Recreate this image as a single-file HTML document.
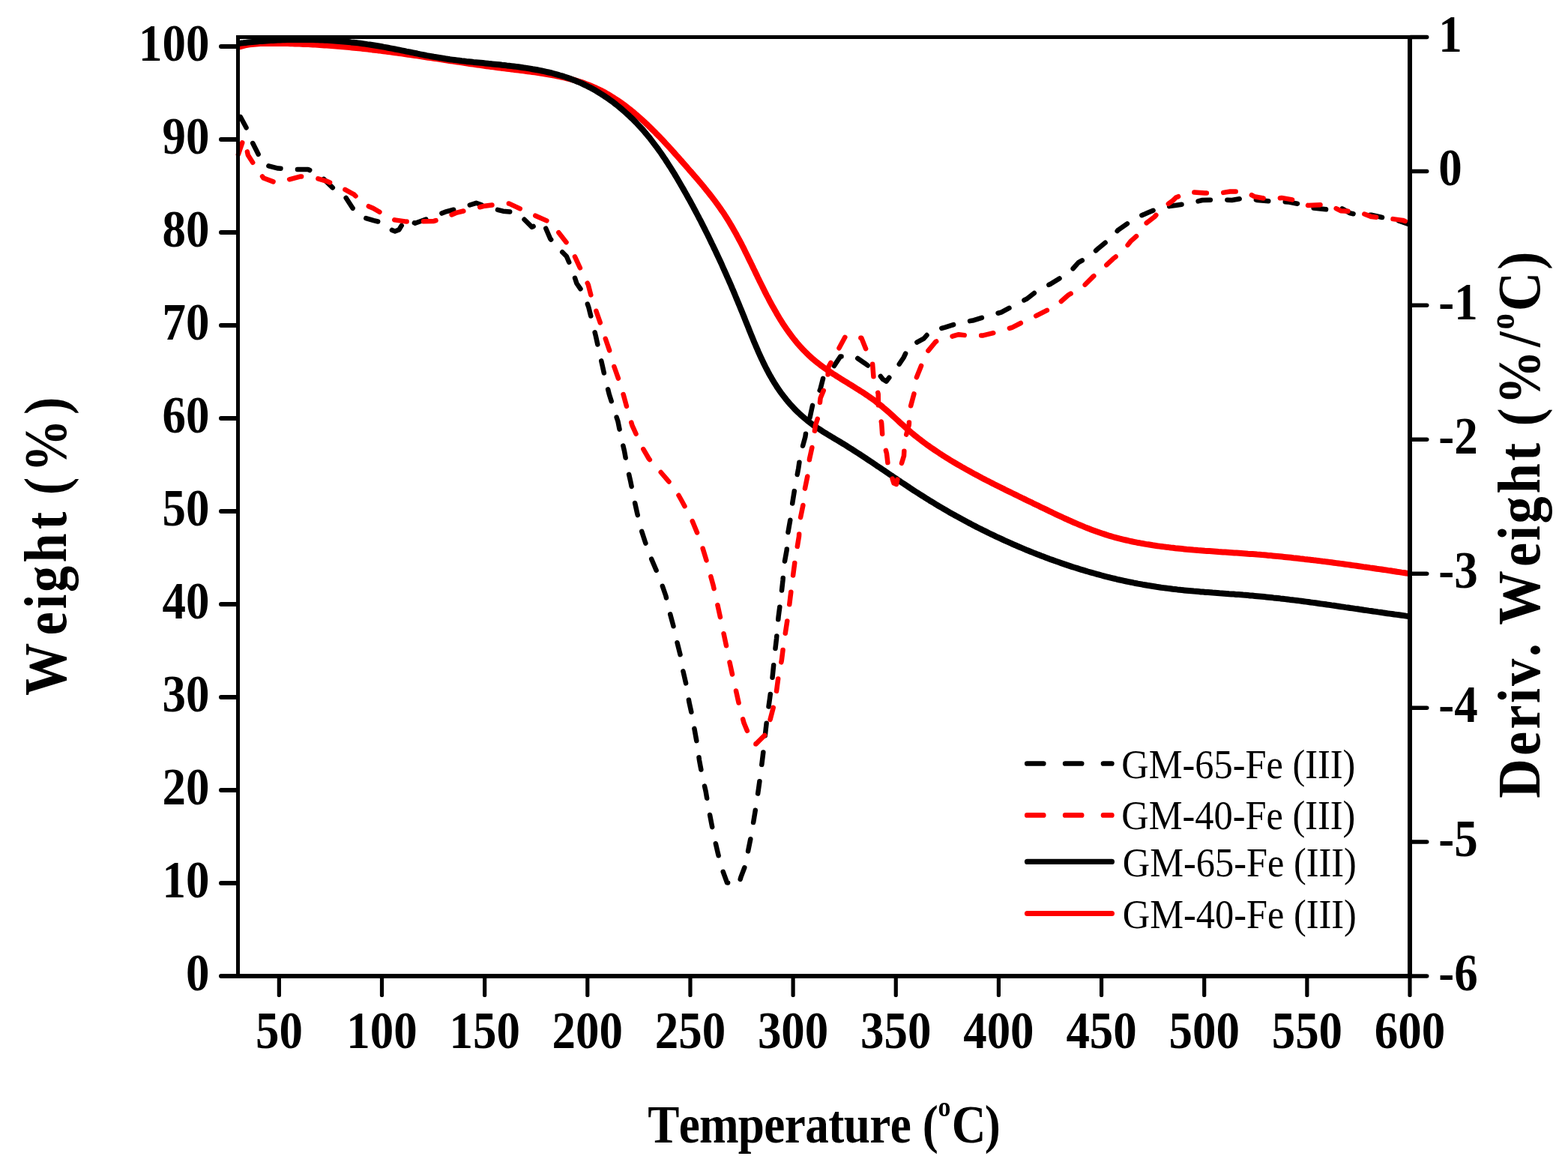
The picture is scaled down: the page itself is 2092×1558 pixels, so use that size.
<!DOCTYPE html>
<html><head><meta charset="utf-8"><title>TGA and DTG curves of GM-65-Fe (III) and GM-40-Fe (III)</title>
<style>html,body{margin:0;padding:0;background:#fff;overflow:hidden;}svg{display:block;}text{font-family:'Liberation Serif','Times New Roman',Times,serif;font-kerning:none;font-feature-settings:"kern" 0;}</style></head><body>
<svg width="2092" height="1558" viewBox="0 0 2092 1558">
<rect width="2092" height="1558" fill="#fff"/>
<g fill="none" stroke-linejoin="round">
<path d="M318.5,62.7 L321.4,61.9 L324.2,61.1 L327.1,60.4 L330.0,59.9 L332.9,59.4 L335.9,59.0 L338.8,58.7 L341.8,58.4 L344.7,58.2 L347.7,58.1 L350.7,58.0 L353.7,57.9 L356.8,57.9 L359.8,57.9 L362.8,57.9 L365.8,57.9 L368.9,57.9 L371.9,57.9 L374.9,58.0 L378.0,58.0 L381.0,58.1 L384.1,58.1 L387.1,58.2 L390.2,58.3 L393.2,58.4 L396.3,58.5 L399.3,58.6 L402.4,58.7 L405.4,58.9 L408.5,59.0 L411.5,59.1 L414.6,59.3 L417.6,59.5 L420.7,59.6 L423.8,59.8 L426.8,60.0 L429.9,60.2 L432.9,60.4 L436.0,60.6 L439.0,60.8 L442.1,61.0 L445.1,61.3 L448.2,61.5 L451.2,61.8 L454.3,62.0 L457.3,62.3 L460.3,62.5 L463.4,62.8 L466.4,63.1 L469.5,63.4 L472.5,63.7 L475.5,64.0 L478.5,64.3 L481.6,64.6 L484.6,65.0 L487.6,65.3 L490.6,65.6 L493.6,66.0 L496.6,66.4 L499.6,66.7 L502.6,67.1 L505.6,67.4 L508.6,67.8 L511.6,68.2 L514.6,68.6 L517.6,69.0 L520.6,69.4 L523.6,69.8 L526.6,70.2 L529.6,70.6 L532.5,71.0 L535.5,71.4 L538.5,71.8 L541.5,72.3 L544.5,72.7 L547.4,73.1 L550.4,73.6 L553.4,74.0 L556.4,74.4 L559.4,74.9 L562.3,75.3 L565.3,75.8 L568.3,76.2 L571.3,76.7 L574.3,77.1 L577.2,77.5 L580.2,78.0 L583.2,78.4 L586.2,78.9 L589.2,79.4 L592.1,79.8 L595.1,80.3 L598.1,80.7 L601.1,81.2 L604.1,81.6 L607.1,82.1 L610.1,82.5 L613.1,82.9 L616.1,83.4 L619.1,83.8 L622.1,84.3 L625.1,84.7 L628.1,85.2 L631.1,85.6 L634.1,86.0 L637.1,86.5 L640.1,86.9 L643.1,87.3 L646.2,87.7 L649.2,88.2 L652.2,88.6 L655.2,89.0 L658.3,89.4 L661.3,89.8 L664.4,90.2 L667.4,90.6 L670.5,91.0 L673.5,91.3 L676.6,91.7 L679.7,92.1 L682.7,92.5 L685.8,92.9 L688.9,93.2 L691.9,93.6 L695.0,94.0 L698.1,94.4 L701.1,94.8 L704.2,95.2 L707.3,95.6 L710.3,96.0 L713.4,96.4 L716.4,96.8 L719.5,97.3 L722.5,97.8 L725.6,98.2 L728.6,98.7 L731.6,99.2 L734.7,99.8 L737.7,100.3 L740.7,100.9 L743.7,101.5 L746.6,102.1 L749.6,102.8 L752.6,103.4 L755.5,104.1 L758.4,104.9 L761.4,105.6 L764.3,106.4 L767.2,107.2 L770.0,108.1 L772.9,109.0 L775.7,109.9 L778.6,110.9 L781.4,111.9 L784.2,112.9 L786.9,114.0 L789.7,115.1 L792.4,116.3 L795.1,117.5 L797.8,118.8 L800.5,120.1 L803.1,121.4 L805.8,122.8 L808.4,124.3 L811.0,125.7 L813.5,127.2 L816.1,128.8 L818.6,130.4 L821.1,132.0 L823.6,133.6 L826.1,135.3 L828.6,137.1 L831.0,138.8 L833.5,140.6 L835.9,142.4 L838.3,144.3 L840.7,146.2 L843.0,148.1 L845.4,150.0 L847.7,152.0 L850.0,153.9 L852.3,156.0 L854.6,158.0 L856.9,160.0 L859.2,162.1 L861.4,164.2 L863.7,166.3 L865.9,168.5 L868.1,170.6 L870.3,172.8 L872.5,175.0 L874.7,177.2 L876.8,179.4 L879.0,181.6 L881.1,183.8 L883.3,186.1 L885.4,188.3 L887.5,190.6 L889.6,192.9 L891.7,195.1 L893.8,197.4 L895.9,199.7 L897.9,202.0 L900.0,204.3 L902.0,206.6 L904.1,208.9 L906.1,211.2 L908.1,213.5 L910.2,215.8 L912.2,218.1 L914.2,220.4 L916.2,222.7 L918.2,225.0 L920.2,227.3 L922.2,229.5 L924.2,231.8 L926.1,234.1 L928.1,236.4 L930.1,238.7 L932.0,240.9 L933.9,243.2 L935.9,245.5 L937.8,247.8 L939.7,250.1 L941.5,252.4 L943.4,254.7 L945.3,257.0 L947.1,259.4 L949.0,261.7 L950.8,264.1 L952.6,266.4 L954.4,268.8 L956.1,271.2 L957.9,273.6 L959.6,276.0 L961.3,278.4 L963.0,280.9 L964.7,283.3 L966.4,285.8 L968.0,288.3 L969.6,290.9 L971.2,293.4 L972.8,296.0 L974.3,298.6 L975.9,301.2 L977.4,303.8 L978.9,306.4 L980.4,309.1 L981.9,311.7 L983.3,314.4 L984.8,317.1 L986.2,319.8 L987.7,322.5 L989.1,325.2 L990.5,328.0 L991.9,330.7 L993.3,333.5 L994.6,336.2 L996.0,339.0 L997.4,341.8 L998.7,344.6 L1000.1,347.3 L1001.5,350.1 L1002.8,352.9 L1004.2,355.7 L1005.5,358.5 L1006.9,361.3 L1008.2,364.1 L1009.6,366.9 L1010.9,369.7 L1012.3,372.5 L1013.6,375.2 L1015.0,378.0 L1016.4,380.8 L1017.8,383.6 L1019.1,386.3 L1020.5,389.1 L1021.9,391.9 L1023.3,394.6 L1024.8,397.3 L1026.2,400.1 L1027.6,402.8 L1029.1,405.5 L1030.6,408.2 L1032.1,410.8 L1033.6,413.5 L1035.1,416.1 L1036.6,418.8 L1038.2,421.4 L1039.7,424.0 L1041.3,426.6 L1042.9,429.1 L1044.5,431.7 L1046.2,434.2 L1047.9,436.7 L1049.6,439.2 L1051.3,441.6 L1053.0,444.0 L1054.8,446.4 L1056.6,448.8 L1058.4,451.2 L1060.3,453.5 L1062.1,455.8 L1064.0,458.1 L1066.0,460.4 L1068.0,462.6 L1070.0,464.8 L1072.0,466.9 L1074.1,469.0 L1076.2,471.1 L1078.3,473.2 L1080.5,475.2 L1082.7,477.2 L1084.9,479.2 L1087.2,481.1 L1089.5,483.0 L1091.9,484.8 L1094.3,486.7 L1096.7,488.5 L1099.1,490.2 L1101.6,492.0 L1104.1,493.7 L1106.6,495.4 L1109.1,497.1 L1111.7,498.8 L1114.3,500.4 L1116.8,502.1 L1119.4,503.7 L1122.0,505.3 L1124.6,507.0 L1127.3,508.6 L1129.9,510.2 L1132.5,511.8 L1135.1,513.4 L1137.7,515.0 L1140.3,516.7 L1142.9,518.3 L1145.5,519.9 L1148.1,521.6 L1150.7,523.2 L1153.3,524.9 L1155.8,526.6 L1158.3,528.3 L1160.9,530.1 L1163.3,531.8 L1165.8,533.6 L1168.2,535.4 L1170.6,537.3 L1173.0,539.1 L1175.4,541.0 L1177.7,542.9 L1180.0,544.9 L1182.3,546.8 L1184.5,548.8 L1186.8,550.8 L1189.0,552.8 L1191.2,554.8 L1193.5,556.9 L1195.7,558.9 L1197.9,560.9 L1200.1,563.0 L1202.3,565.0 L1204.6,567.0 L1206.8,569.0 L1209.0,571.0 L1211.3,573.0 L1213.6,575.0 L1215.9,577.0 L1218.2,578.9 L1220.5,580.8 L1222.9,582.7 L1225.3,584.6 L1227.7,586.4 L1230.1,588.3 L1232.5,590.1 L1234.9,591.9 L1237.4,593.7 L1239.9,595.4 L1242.4,597.2 L1244.9,598.9 L1247.4,600.6 L1249.9,602.3 L1252.5,604.0 L1255.0,605.7 L1257.6,607.3 L1260.2,609.0 L1262.7,610.6 L1265.3,612.2 L1267.9,613.8 L1270.5,615.4 L1273.2,617.0 L1275.8,618.5 L1278.4,620.1 L1281.1,621.6 L1283.7,623.1 L1286.4,624.6 L1289.0,626.1 L1291.7,627.6 L1294.4,629.1 L1297.0,630.5 L1299.7,632.0 L1302.4,633.4 L1305.0,634.8 L1307.7,636.2 L1310.4,637.7 L1313.1,639.1 L1315.8,640.5 L1318.5,641.8 L1321.2,643.2 L1323.9,644.6 L1326.6,646.0 L1329.3,647.3 L1332.0,648.7 L1334.7,650.0 L1337.4,651.4 L1340.1,652.7 L1342.8,654.1 L1345.5,655.4 L1348.2,656.7 L1350.9,658.0 L1353.7,659.4 L1356.4,660.7 L1359.1,662.0 L1361.8,663.3 L1364.5,664.7 L1367.3,666.0 L1370.0,667.3 L1372.7,668.6 L1375.5,669.9 L1378.2,671.3 L1380.9,672.6 L1383.7,673.9 L1386.4,675.2 L1389.1,676.6 L1391.9,677.9 L1394.6,679.2 L1397.4,680.5 L1400.1,681.9 L1402.9,683.2 L1405.6,684.5 L1408.4,685.8 L1411.1,687.1 L1413.9,688.4 L1416.7,689.7 L1419.4,691.0 L1422.2,692.2 L1425.0,693.5 L1427.8,694.7 L1430.6,696.0 L1433.4,697.2 L1436.2,698.4 L1439.0,699.6 L1441.8,700.8 L1444.6,701.9 L1447.4,703.1 L1450.2,704.2 L1453.0,705.3 L1455.9,706.4 L1458.7,707.4 L1461.6,708.5 L1464.4,709.5 L1467.3,710.5 L1470.2,711.5 L1473.0,712.4 L1475.9,713.4 L1478.8,714.3 L1481.7,715.1 L1484.6,716.0 L1487.5,716.8 L1490.4,717.6 L1493.4,718.4 L1496.3,719.1 L1499.3,719.8 L1502.2,720.5 L1505.2,721.2 L1508.1,721.8 L1511.1,722.5 L1514.0,723.1 L1517.0,723.7 L1520.0,724.2 L1523.0,724.8 L1526.0,725.3 L1529.0,725.9 L1531.9,726.3 L1534.9,726.8 L1537.9,727.3 L1540.9,727.7 L1544.0,728.2 L1547.0,728.6 L1550.0,729.0 L1553.0,729.4 L1556.0,729.8 L1559.0,730.1 L1562.0,730.5 L1565.0,730.8 L1568.1,731.2 L1571.1,731.5 L1574.1,731.8 L1577.1,732.1 L1580.1,732.4 L1583.2,732.7 L1586.2,732.9 L1589.2,733.2 L1592.3,733.5 L1595.3,733.7 L1598.3,734.0 L1601.3,734.2 L1604.4,734.4 L1607.4,734.7 L1610.4,734.9 L1613.5,735.1 L1616.5,735.3 L1619.5,735.5 L1622.5,735.7 L1625.6,736.0 L1628.6,736.2 L1631.6,736.4 L1634.7,736.6 L1637.7,736.8 L1640.7,737.0 L1643.8,737.2 L1646.8,737.4 L1649.8,737.6 L1652.9,737.8 L1655.9,738.0 L1658.9,738.2 L1662.0,738.4 L1665.0,738.7 L1668.0,738.9 L1671.1,739.1 L1674.1,739.3 L1677.1,739.6 L1680.2,739.8 L1683.2,740.1 L1686.2,740.3 L1689.2,740.6 L1692.3,740.9 L1695.3,741.1 L1698.3,741.4 L1701.3,741.7 L1704.4,742.0 L1707.4,742.3 L1710.4,742.6 L1713.4,742.9 L1716.4,743.2 L1719.5,743.5 L1722.5,743.8 L1725.5,744.2 L1728.5,744.5 L1731.5,744.8 L1734.6,745.2 L1737.6,745.5 L1740.6,745.9 L1743.6,746.2 L1746.6,746.6 L1749.7,746.9 L1752.7,747.3 L1755.7,747.6 L1758.7,748.0 L1761.7,748.4 L1764.7,748.8 L1767.7,749.1 L1770.8,749.5 L1773.8,749.9 L1776.8,750.3 L1779.8,750.7 L1782.8,751.1 L1785.8,751.5 L1788.8,751.9 L1791.8,752.3 L1794.8,752.7 L1797.9,753.1 L1800.9,753.5 L1803.9,754.0 L1806.9,754.4 L1809.9,754.8 L1812.9,755.2 L1815.9,755.6 L1818.9,756.1 L1821.9,756.5 L1824.9,756.9 L1827.9,757.4 L1830.9,757.8 L1833.9,758.2 L1837.0,758.7 L1840.0,759.1 L1843.0,759.5 L1846.0,760.0 L1849.0,760.4 L1852.0,760.9 L1855.0,761.3 L1858.0,761.8 L1861.0,762.2 L1864.0,762.7 L1867.0,763.1 L1870.0,763.6 L1873.0,764.0 L1876.0,764.5 L1879.0,764.9" stroke="#f00" stroke-width="8"/>
<path d="M318.6,58.0 L321.6,57.6 L324.6,57.3 L327.7,56.9 L330.7,56.6 L333.7,56.3 L336.8,56.0 L339.9,55.7 L342.9,55.4 L346.0,55.1 L349.1,54.9 L352.2,54.7 L355.2,54.4 L358.3,54.2 L361.4,54.1 L364.5,53.9 L367.7,53.7 L370.8,53.6 L373.9,53.4 L377.0,53.3 L380.2,53.2 L383.3,53.1 L386.4,53.0 L389.6,53.0 L392.7,52.9 L395.9,52.9 L399.0,52.9 L402.1,52.9 L405.3,52.9 L408.5,52.9 L411.6,53.0 L414.8,53.0 L417.9,53.1 L421.1,53.2 L424.2,53.3 L427.4,53.4 L430.6,53.5 L433.7,53.7 L436.9,53.8 L440.0,54.0 L443.2,54.2 L446.3,54.4 L449.5,54.7 L452.6,54.9 L455.8,55.2 L458.9,55.4 L462.1,55.7 L465.2,56.0 L468.3,56.4 L471.5,56.7 L474.6,57.0 L477.7,57.4 L480.8,57.8 L483.9,58.2 L487.0,58.6 L490.1,59.1 L493.2,59.5 L496.3,60.0 L499.4,60.5 L502.5,61.0 L505.6,61.5 L508.6,62.0 L511.7,62.6 L514.7,63.1 L517.8,63.7 L520.8,64.3 L523.9,64.9 L526.9,65.5 L530.0,66.1 L533.0,66.7 L536.0,67.3 L539.1,67.9 L542.1,68.6 L545.1,69.2 L548.2,69.8 L551.2,70.4 L554.3,71.0 L557.3,71.7 L560.3,72.3 L563.4,72.9 L566.4,73.5 L569.5,74.1 L572.5,74.6 L575.6,75.2 L578.7,75.8 L581.7,76.3 L584.8,76.8 L587.9,77.3 L591.0,77.8 L594.1,78.3 L597.2,78.7 L600.3,79.2 L603.4,79.6 L606.6,80.0 L609.7,80.4 L612.8,80.8 L616.0,81.2 L619.1,81.5 L622.3,81.9 L625.4,82.2 L628.6,82.5 L631.8,82.9 L634.9,83.2 L638.1,83.5 L641.3,83.8 L644.5,84.1 L647.6,84.4 L650.8,84.7 L654.0,85.1 L657.1,85.4 L660.3,85.7 L663.5,86.0 L666.7,86.3 L669.8,86.7 L673.0,87.0 L676.2,87.4 L679.3,87.7 L682.5,88.1 L685.6,88.5 L688.8,88.9 L691.9,89.3 L695.0,89.7 L698.2,90.2 L701.3,90.6 L704.4,91.1 L707.5,91.6 L710.6,92.2 L713.7,92.7 L716.8,93.3 L719.8,93.9 L722.9,94.5 L726.0,95.1 L729.0,95.8 L732.0,96.5 L735.1,97.2 L738.1,98.0 L741.1,98.8 L744.0,99.6 L747.0,100.5 L750.0,101.3 L752.9,102.3 L755.8,103.2 L758.8,104.3 L761.6,105.3 L764.5,106.4 L767.4,107.5 L770.2,108.7 L773.1,109.9 L775.9,111.2 L778.7,112.5 L781.5,113.8 L784.2,115.2 L787.0,116.6 L789.7,118.1 L792.4,119.6 L795.1,121.1 L797.8,122.7 L800.4,124.3 L803.0,126.0 L805.6,127.6 L808.2,129.4 L810.8,131.1 L813.3,132.9 L815.9,134.8 L818.4,136.6 L820.8,138.5 L823.3,140.5 L825.7,142.4 L828.1,144.4 L830.5,146.4 L832.9,148.5 L835.2,150.6 L837.5,152.7 L839.8,154.8 L842.1,157.0 L844.4,159.2 L846.6,161.4 L848.8,163.6 L850.9,165.9 L853.1,168.2 L855.2,170.5 L857.3,172.8 L859.4,175.2 L861.4,177.6 L863.4,180.0 L865.4,182.4 L867.4,184.8 L869.3,187.3 L871.2,189.8 L873.1,192.3 L875.0,194.8 L876.9,197.3 L878.7,199.9 L880.6,202.5 L882.4,205.0 L884.1,207.6 L885.9,210.2 L887.7,212.8 L889.4,215.5 L891.1,218.1 L892.8,220.8 L894.5,223.4 L896.2,226.1 L897.8,228.8 L899.5,231.4 L901.1,234.1 L902.7,236.8 L904.3,239.5 L905.9,242.3 L907.5,245.0 L909.1,247.7 L910.6,250.4 L912.2,253.1 L913.8,255.9 L915.3,258.6 L916.8,261.3 L918.3,264.1 L919.9,266.8 L921.4,269.5 L922.9,272.3 L924.4,275.0 L925.8,277.8 L927.3,280.5 L928.8,283.3 L930.2,286.0 L931.7,288.8 L933.1,291.6 L934.6,294.3 L936.0,297.1 L937.4,299.9 L938.8,302.6 L940.2,305.4 L941.6,308.2 L943.0,311.0 L944.4,313.8 L945.8,316.6 L947.1,319.4 L948.5,322.2 L949.8,325.0 L951.2,327.8 L952.5,330.6 L953.9,333.4 L955.2,336.2 L956.5,339.0 L957.8,341.8 L959.2,344.7 L960.5,347.5 L961.8,350.3 L963.1,353.2 L964.3,356.0 L965.6,358.9 L966.9,361.7 L968.2,364.6 L969.4,367.4 L970.7,370.3 L972.0,373.1 L973.2,376.0 L974.5,378.9 L975.7,381.7 L976.9,384.6 L978.2,387.5 L979.4,390.4 L980.6,393.3 L981.8,396.2 L983.0,399.1 L984.2,402.0 L985.4,404.9 L986.6,407.8 L987.8,410.7 L989.0,413.6 L990.2,416.6 L991.4,419.5 L992.6,422.4 L993.8,425.4 L994.9,428.3 L996.1,431.3 L997.3,434.2 L998.5,437.1 L999.6,440.1 L1000.8,443.0 L1002.0,446.0 L1003.2,448.9 L1004.4,451.8 L1005.6,454.8 L1006.8,457.7 L1008.1,460.6 L1009.3,463.5 L1010.6,466.4 L1011.8,469.3 L1013.1,472.2 L1014.4,475.0 L1015.7,477.9 L1017.1,480.7 L1018.4,483.6 L1019.8,486.4 L1021.2,489.2 L1022.6,492.0 L1024.1,494.7 L1025.5,497.5 L1027.0,500.2 L1028.6,502.9 L1030.1,505.6 L1031.7,508.3 L1033.3,510.9 L1035.0,513.5 L1036.6,516.1 L1038.4,518.7 L1040.1,521.2 L1041.9,523.8 L1043.7,526.2 L1045.6,528.7 L1047.5,531.1 L1049.4,533.5 L1051.4,535.9 L1053.4,538.3 L1055.5,540.6 L1057.6,542.8 L1059.7,545.1 L1061.9,547.3 L1064.1,549.5 L1066.4,551.6 L1068.7,553.7 L1071.0,555.8 L1073.3,557.8 L1075.7,559.8 L1078.2,561.8 L1080.6,563.7 L1083.1,565.6 L1085.6,567.4 L1088.2,569.2 L1090.8,571.0 L1093.4,572.7 L1096.0,574.4 L1098.6,576.1 L1101.3,577.7 L1104.0,579.4 L1106.7,581.0 L1109.4,582.6 L1112.1,584.2 L1114.7,585.8 L1117.4,587.4 L1120.1,589.0 L1122.8,590.7 L1125.5,592.3 L1128.2,593.9 L1130.8,595.6 L1133.5,597.3 L1136.1,598.9 L1138.7,600.6 L1141.4,602.3 L1144.0,604.0 L1146.6,605.7 L1149.2,607.4 L1151.9,609.1 L1154.5,610.8 L1157.1,612.6 L1159.7,614.3 L1162.3,616.0 L1164.9,617.8 L1167.4,619.5 L1170.0,621.3 L1172.6,623.0 L1175.2,624.7 L1177.8,626.5 L1180.4,628.2 L1183.0,630.0 L1185.5,631.7 L1188.1,633.5 L1190.7,635.2 L1193.3,637.0 L1195.9,638.7 L1198.5,640.5 L1201.1,642.2 L1203.7,644.0 L1206.3,645.7 L1208.9,647.4 L1211.5,649.1 L1214.1,650.9 L1216.7,652.6 L1219.3,654.3 L1221.9,656.0 L1224.6,657.7 L1227.2,659.4 L1229.8,661.0 L1232.5,662.7 L1235.1,664.4 L1237.8,666.0 L1240.4,667.7 L1243.1,669.3 L1245.8,670.9 L1248.5,672.6 L1251.2,674.2 L1253.8,675.8 L1256.6,677.4 L1259.3,679.0 L1262.0,680.5 L1264.7,682.1 L1267.4,683.7 L1270.1,685.2 L1272.9,686.7 L1275.6,688.3 L1278.4,689.8 L1281.1,691.3 L1283.9,692.8 L1286.6,694.3 L1289.4,695.8 L1292.2,697.3 L1295.0,698.7 L1297.8,700.2 L1300.5,701.6 L1303.3,703.1 L1306.1,704.5 L1308.9,705.9 L1311.8,707.3 L1314.6,708.7 L1317.4,710.1 L1320.2,711.5 L1323.1,712.9 L1325.9,714.2 L1328.7,715.6 L1331.6,716.9 L1334.4,718.2 L1337.3,719.5 L1340.1,720.8 L1343.0,722.1 L1345.9,723.4 L1348.7,724.7 L1351.6,726.0 L1354.5,727.2 L1357.4,728.5 L1360.3,729.7 L1363.1,730.9 L1366.0,732.1 L1368.9,733.4 L1371.8,734.5 L1374.7,735.7 L1377.7,736.9 L1380.6,738.1 L1383.5,739.2 L1386.4,740.3 L1389.3,741.5 L1392.3,742.6 L1395.2,743.7 L1398.1,744.8 L1401.1,745.9 L1404.0,746.9 L1407.0,748.0 L1409.9,749.0 L1412.9,750.1 L1415.8,751.1 L1418.8,752.1 L1421.7,753.1 L1424.7,754.1 L1427.7,755.1 L1430.6,756.1 L1433.6,757.0 L1436.6,757.9 L1439.6,758.9 L1442.6,759.8 L1445.6,760.7 L1448.6,761.6 L1451.6,762.5 L1454.6,763.3 L1457.6,764.2 L1460.6,765.0 L1463.6,765.9 L1466.6,766.7 L1469.6,767.5 L1472.6,768.3 L1475.6,769.1 L1478.7,769.8 L1481.7,770.6 L1484.7,771.3 L1487.8,772.0 L1490.8,772.8 L1493.8,773.5 L1496.9,774.1 L1499.9,774.8 L1503.0,775.5 L1506.0,776.1 L1509.1,776.7 L1512.2,777.4 L1515.2,778.0 L1518.3,778.6 L1521.4,779.1 L1524.4,779.7 L1527.5,780.2 L1530.6,780.8 L1533.7,781.3 L1536.7,781.8 L1539.8,782.3 L1542.9,782.8 L1546.0,783.2 L1549.1,783.7 L1552.2,784.1 L1555.3,784.5 L1558.4,784.9 L1561.5,785.3 L1564.6,785.7 L1567.7,786.0 L1570.9,786.4 L1574.0,786.7 L1577.1,787.1 L1580.2,787.4 L1583.3,787.7 L1586.5,788.0 L1589.6,788.3 L1592.7,788.6 L1595.8,788.8 L1599.0,789.1 L1602.1,789.4 L1605.2,789.6 L1608.4,789.9 L1611.5,790.1 L1614.6,790.3 L1617.8,790.6 L1620.9,790.8 L1624.0,791.0 L1627.2,791.3 L1630.3,791.5 L1633.4,791.7 L1636.6,791.9 L1639.7,792.2 L1642.9,792.4 L1646.0,792.6 L1649.1,792.9 L1652.3,793.1 L1655.4,793.3 L1658.5,793.6 L1661.7,793.8 L1664.8,794.1 L1667.9,794.4 L1671.0,794.6 L1674.2,794.9 L1677.3,795.2 L1680.4,795.5 L1683.5,795.8 L1686.7,796.1 L1689.8,796.4 L1692.9,796.7 L1696.0,797.0 L1699.1,797.4 L1702.2,797.7 L1705.3,798.0 L1708.5,798.4 L1711.6,798.7 L1714.7,799.1 L1717.8,799.5 L1720.9,799.9 L1724.0,800.2 L1727.1,800.6 L1730.2,801.0 L1733.3,801.4 L1736.4,801.8 L1739.5,802.2 L1742.6,802.6 L1745.7,803.0 L1748.8,803.5 L1751.9,803.9 L1755.0,804.3 L1758.1,804.7 L1761.2,805.2 L1764.3,805.6 L1767.4,806.0 L1770.5,806.5 L1773.6,806.9 L1776.7,807.4 L1779.8,807.8 L1782.9,808.3 L1786.0,808.7 L1789.1,809.2 L1792.2,809.6 L1795.2,810.1 L1798.3,810.5 L1801.4,811.0 L1804.5,811.4 L1807.6,811.9 L1810.7,812.3 L1813.8,812.8 L1816.9,813.2 L1820.0,813.7 L1823.1,814.1 L1826.2,814.6 L1829.3,815.0 L1832.4,815.5 L1835.5,815.9 L1838.6,816.4 L1841.7,816.8 L1844.8,817.3 L1847.9,817.7 L1851.0,818.2 L1854.1,818.6 L1857.3,819.0 L1860.4,819.5 L1863.5,819.9 L1866.6,820.3 L1869.7,820.7 L1872.8,821.1 L1875.9,821.6 L1879.0,822.0" stroke="#000" stroke-width="8"/>
<path d="M320.7,155.8 L330.0,173.0 L335.0,186.6 L344.4,205.3 L351.6,219.6 L371.0,224.6 L391.0,226.0 L411.0,226.0 L425.4,232.5 L446.2,252.6 L461.3,263.3 L470.6,277.7 L484.2,289.9 L498.6,294.2 L510.8,297.0 L523.0,307.0 L527.0,308.5 L532.3,306.4 L540.9,292.7 L553.8,297.7 L581.7,287.7 L594.0,282.7 L607.7,279.1 L621.2,275.3 L635.3,270.8 L652.0,276.6 L671.2,281.7 L686.0,283.0 L698.8,292.0 L709.7,302.9 L723.2,296.5 L727.0,301.6 L734.1,318.3 L744.4,330.5 L755.9,342.0 L763.0,358.7 L769.4,378.0 L779.0,392.0 L785.4,410.0 L790.0,428.7 L794.8,448.0 L799.0,467.0 L803.3,486.0 L807.5,505.0 L812.8,526.0 L819.0,545.4 L824.5,562.3 L828.7,583.5 L833.0,601.5 L837.0,623.7 L841.4,642.8 L845.6,664.0 L850.0,684.0 L855.0,705.0 L860.5,722.0 L866.8,740.0 L874.2,757.5 L880.9,773.4 L888.4,795.0 L892.6,813.4 L898.4,835.0 L902.6,853.5 L907.6,873.5 L911.0,893.6 L916.0,915.3 L919.3,936.0 L924.3,958.7 L926.2,970.8 L930.0,992.0 L933.0,1014.0 L937.0,1035.5 L941.6,1055.5 L945.5,1078.7 L949.3,1098.7 L953.2,1118.0 L957.8,1138.0 L962.4,1156.5 L970.0,1177.3 L985.5,1180.4 L988.6,1169.6 L994.8,1153.4 L998.6,1132.6 L1002.5,1113.3 L1006.3,1090.0 L1009.4,1071.0 L1013.3,1043.2 L1016.3,1020.0 L1019.4,994.7 L1021.7,973.0 L1024.0,952.8 L1027.0,932.0 L1030.3,906.0 L1032.8,881.0 L1033.6,872.7 L1036.0,851.8 L1038.6,822.6 L1042.0,796.8 L1044.5,774.0 L1046.0,754.0 L1049.7,733.7 L1051.0,712.5 L1054.6,692.0 L1057.4,670.0 L1061.0,647.6 L1065.2,625.0 L1068.0,606.0 L1074.4,582.6 L1075.8,572.7 L1079.3,562.8 L1084.7,537.7 L1094.4,519.4 L1098.5,503.2 L1111.6,490.0 L1121.2,475.5 L1140.5,475.5 L1154.0,484.7 L1171.7,497.8 L1178.0,506.0 L1182.5,508.6 L1194.8,493.2 L1205.6,477.0 L1212.5,462.4 L1232.5,451.6 L1240.7,442.4 L1261.0,436.6 L1279.2,430.8 L1299.3,427.2 L1314.7,422.3 L1335.8,416.6 L1348.4,409.8 L1370.5,398.3 L1384.0,387.7 L1401.3,379.0 L1413.8,371.3 L1430.2,359.8 L1438.9,350.1 L1454.3,341.5 L1465.8,330.9 L1481.2,318.4 L1491.8,306.8 L1514.0,291.4 L1531.3,283.7 L1547.7,277.0 L1567.9,274.0 L1587.6,271.0 L1604.2,267.0 L1627.8,266.3 L1643.6,267.0 L1661.7,263.9 L1677.5,267.0 L1698.0,268.6 L1718.5,269.4 L1739.8,273.4 L1750.9,277.3 L1772.2,279.7 L1787.2,276.5 L1801.4,284.4 L1814.0,286.8 L1830.5,286.8 L1844.0,290.0 L1866.8,294.7 L1879.0,299.0" stroke="#000" stroke-width="6.5" stroke-linecap="round" stroke-dasharray="16.5 22.5"/>
<path d="M317.9,206.0 L324.3,187.3 L326.5,186.0 L330.8,206.7 L340.8,222.5 L351.6,237.5 L368.8,244.0 L384.6,239.7 L401.0,235.4 L421.8,237.5 L436.2,241.8 L452.0,248.3 L472.7,259.7 L485.7,272.7 L497.8,277.7 L512.2,286.3 L526.5,293.4 L542.3,295.6 L558.0,295.6 L578.9,294.9 L592.5,290.6 L609.6,283.6 L646.8,274.7 L662.9,272.7 L678.9,271.4 L696.9,279.8 L712.3,286.8 L729.6,294.5 L743.7,308.0 L757.2,325.3 L765.0,338.2 L773.3,356.1 L784.8,379.9 L789.3,397.2 L795.7,415.8 L802.0,434.0 L807.5,451.0 L814.0,470.0 L819.0,488.0 L826.6,509.4 L832.0,527.4 L838.0,549.6 L843.5,567.6 L848.8,579.3 L857.3,597.3 L865.8,612.0 L876.3,623.7 L890.0,639.6 L900.7,652.3 L909.0,667.0 L916.6,681.0 L924.0,695.7 L931.4,713.7 L937.7,731.7 L943.5,750.8 L946.8,763.4 L951.8,781.7 L956.8,804.3 L961.0,823.5 L965.2,843.5 L969.3,862.7 L973.5,883.5 L977.7,902.7 L981.9,921.0 L986.9,943.6 L992.6,964.6 L999.4,981.0 L1005.0,992.0 L1008.6,992.4 L1021.7,979.3 L1027.0,962.0 L1032.0,942.8 L1036.0,922.0 L1038.6,902.0 L1042.8,881.0 L1045.3,861.0 L1048.6,839.3 L1052.0,816.8 L1054.5,796.0 L1057.0,776.0 L1060.3,750.7 L1066.0,715.4 L1067.3,694.0 L1071.6,673.0 L1073.7,653.0 L1078.0,632.0 L1080.0,612.3 L1085.0,589.7 L1087.8,567.8 L1092.0,555.0 L1094.6,531.0 L1103.9,508.6 L1105.4,489.3 L1119.3,464.7 L1128.5,447.7 L1149.3,450.8 L1155.5,466.2 L1164.0,484.0 L1165.5,503.2 L1171.7,525.5 L1172.0,543.5 L1176.2,564.6 L1177.5,584.0 L1183.0,605.0 L1184.9,621.5 L1192.6,644.6 L1196.0,646.0 L1199.3,630.0 L1206.0,608.0 L1207.0,587.8 L1212.8,566.6 L1213.8,546.3 L1219.5,525.2 L1221.5,506.9 L1229.2,487.6 L1234.0,473.2 L1248.4,455.8 L1258.0,452.0 L1279.2,446.2 L1290.0,447.5 L1311.8,447.4 L1332.0,442.6 L1350.3,436.8 L1363.8,430.0 L1382.0,421.4 L1395.5,414.6 L1410.0,407.0 L1425.4,393.5 L1445.6,381.9 L1459.0,368.4 L1472.6,356.9 L1485.0,345.3 L1498.6,334.7 L1508.2,322.2 L1518.8,312.6 L1527.5,299.1 L1540.0,289.5 L1550.6,277.9 L1565.0,267.3 L1568.9,263.5 L1587.6,256.0 L1607.3,257.6 L1627.8,257.6 L1641.2,255.5 L1661.7,255.5 L1673.6,262.3 L1695.7,266.3 L1710.0,263.9 L1732.0,267.8 L1745.4,274.1 L1772.2,272.6 L1788.7,281.2 L1813.2,282.8 L1829.8,289.1 L1854.2,291.5 L1871.6,293.9 L1879.0,296.5" stroke="#f00" stroke-width="6.5" stroke-linecap="round" stroke-dasharray="16.5 22.5"/>
</g>
<g fill="#000">
<rect x="315" y="47" width="5" height="1258"/>
<rect x="1878" y="47" width="6" height="1258"/>
<rect x="315" y="47" width="1569" height="5"/>
<rect x="315" y="1299" width="1569" height="6"/>
</g>
<g stroke="#000" stroke-linecap="round" fill="none">
<line x1="295" y1="1302.0" x2="316" y2="1302.0" stroke-width="6"/>
<line x1="295" y1="1178.0" x2="316" y2="1178.0" stroke-width="6"/>
<line x1="295" y1="1054.0" x2="316" y2="1054.0" stroke-width="6"/>
<line x1="295" y1="930.0" x2="316" y2="930.0" stroke-width="6"/>
<line x1="295" y1="806.0" x2="316" y2="806.0" stroke-width="6"/>
<line x1="295" y1="682.0" x2="316" y2="682.0" stroke-width="6"/>
<line x1="295" y1="558.0" x2="316" y2="558.0" stroke-width="6"/>
<line x1="295" y1="434.0" x2="316" y2="434.0" stroke-width="6"/>
<line x1="295" y1="310.0" x2="316" y2="310.0" stroke-width="6"/>
<line x1="295" y1="186.0" x2="316" y2="186.0" stroke-width="6"/>
<line x1="295" y1="62.0" x2="316" y2="62.0" stroke-width="6"/>
<line x1="1882" y1="49.50" x2="1903.7" y2="49.50" stroke-width="5.5"/>
<line x1="1882" y1="228.43" x2="1903.7" y2="228.43" stroke-width="5.5"/>
<line x1="1882" y1="407.36" x2="1903.7" y2="407.36" stroke-width="5.5"/>
<line x1="1882" y1="586.29" x2="1903.7" y2="586.29" stroke-width="5.5"/>
<line x1="1882" y1="765.21" x2="1903.7" y2="765.21" stroke-width="5.5"/>
<line x1="1882" y1="944.14" x2="1903.7" y2="944.14" stroke-width="5.5"/>
<line x1="1882" y1="1123.07" x2="1903.7" y2="1123.07" stroke-width="5.5"/>
<line x1="1882" y1="1302.00" x2="1903.7" y2="1302.00" stroke-width="5.5"/>
<line x1="372.36" y1="1303" x2="372.36" y2="1327.4" stroke-width="5.2"/>
<line x1="509.51" y1="1303" x2="509.51" y2="1327.4" stroke-width="5.2"/>
<line x1="646.66" y1="1303" x2="646.66" y2="1327.4" stroke-width="5.2"/>
<line x1="783.81" y1="1303" x2="783.81" y2="1327.4" stroke-width="5.2"/>
<line x1="920.96" y1="1303" x2="920.96" y2="1327.4" stroke-width="5.2"/>
<line x1="1058.11" y1="1303" x2="1058.11" y2="1327.4" stroke-width="5.2"/>
<line x1="1195.25" y1="1303" x2="1195.25" y2="1327.4" stroke-width="5.2"/>
<line x1="1332.40" y1="1303" x2="1332.40" y2="1327.4" stroke-width="5.2"/>
<line x1="1469.55" y1="1303" x2="1469.55" y2="1327.4" stroke-width="5.2"/>
<line x1="1606.70" y1="1303" x2="1606.70" y2="1327.4" stroke-width="5.2"/>
<line x1="1743.85" y1="1303" x2="1743.85" y2="1327.4" stroke-width="5.2"/>
<line x1="1881.00" y1="1303" x2="1881.00" y2="1327.4" stroke-width="5.2"/>
</g>
<g font-weight="bold" font-size="69.6" fill="#000">
<text text-anchor="end" transform="translate(279.4,1321.0) scale(0.904,1)">0</text>
<text text-anchor="end" transform="translate(279.4,1197.0) scale(0.904,1)">10</text>
<text text-anchor="end" transform="translate(279.4,1073.0) scale(0.904,1)">20</text>
<text text-anchor="end" transform="translate(279.4,949.0) scale(0.904,1)">30</text>
<text text-anchor="end" transform="translate(279.4,825.0) scale(0.904,1)">40</text>
<text text-anchor="end" transform="translate(279.4,701.0) scale(0.904,1)">50</text>
<text text-anchor="end" transform="translate(279.4,577.0) scale(0.904,1)">60</text>
<text text-anchor="end" transform="translate(279.4,453.0) scale(0.904,1)">70</text>
<text text-anchor="end" transform="translate(279.4,329.0) scale(0.904,1)">80</text>
<text text-anchor="end" transform="translate(279.4,205.0) scale(0.904,1)">90</text>
<text text-anchor="end" transform="translate(279.4,81.0) scale(0.904,1)">100</text>
<text transform="translate(1919.2,68.5) scale(0.904,1)">1</text>
<text transform="translate(1919.2,247.4) scale(0.904,1)">0</text>
<text transform="translate(1919.2,426.4) scale(0.904,1)">-1</text>
<text transform="translate(1919.2,605.3) scale(0.904,1)">-2</text>
<text transform="translate(1919.2,784.2) scale(0.904,1)">-3</text>
<text transform="translate(1919.2,963.1) scale(0.904,1)">-4</text>
<text transform="translate(1919.2,1142.1) scale(0.904,1)">-5</text>
<text transform="translate(1919.2,1321.0) scale(0.904,1)">-6</text>
<text text-anchor="middle" transform="translate(372.4,1397.8) scale(0.904,1)">50</text>
<text text-anchor="middle" transform="translate(509.5,1397.8) scale(0.904,1)">100</text>
<text text-anchor="middle" transform="translate(646.7,1397.8) scale(0.904,1)">150</text>
<text text-anchor="middle" transform="translate(783.8,1397.8) scale(0.904,1)">200</text>
<text text-anchor="middle" transform="translate(921.0,1397.8) scale(0.904,1)">250</text>
<text text-anchor="middle" transform="translate(1058.1,1397.8) scale(0.904,1)">300</text>
<text text-anchor="middle" transform="translate(1195.3,1397.8) scale(0.904,1)">350</text>
<text text-anchor="middle" transform="translate(1332.4,1397.8) scale(0.904,1)">400</text>
<text text-anchor="middle" transform="translate(1469.6,1397.8) scale(0.904,1)">450</text>
<text text-anchor="middle" transform="translate(1606.7,1397.8) scale(0.904,1)">500</text>
<text text-anchor="middle" transform="translate(1743.9,1397.8) scale(0.904,1)">550</text>
<text text-anchor="middle" transform="translate(1881.0,1397.8) scale(0.904,1)">600</text>
</g>
<g font-weight="bold" fill="#000">
<text font-size="71.0" transform="translate(864.8,1523.7) scale(0.890,1)" x="-0.48 46.06 76.65 134.81 173.55 204.42 235.24 270.14 293.16 331.91 362.78 393.97 411.11" y="0">Temperature (<tspan font-size="38.0" x="434.60" y="-34.4">o</tspan><tspan x="454.88 504.39" y="0 0">C)</tspan></text>
<text font-size="80.0" transform="translate(87.8,930.0) rotate(-90) scale(0.880,1)" x="2.18 93.85 133.94 159.08 203.95 254.15 282.80 306.65 341.31 428.47" y="0">Weight (%)</text>
<text font-size="80.7" transform="translate(2053.8,1067.1) rotate(-90) scale(0.900,1)" x="2.68 65.62 104.87 143.49 168.89 212.15 233.29 259.26 345.59 384.20 409.67 454.09 502.42 530.54 553.98 586.01 671.62" y="0">Deriv. Weight (%/<tspan font-size="47.7" x="697.45" y="-34.2">o</tspan><tspan x="724.40 786.05" y="0">C)</tspan></text>
</g>
<g fill="none" stroke-linecap="round">
<line x1="1370.25" y1="1018.5" x2="1483.35" y2="1018.5" stroke="#000" stroke-width="6.7" stroke-dasharray="22 28.9"/>
<line x1="1370.25" y1="1087.4" x2="1483.35" y2="1087.4" stroke="#f00" stroke-width="6.7" stroke-dasharray="22 28.9"/>
<line x1="1370.5" y1="1149.4" x2="1483.4" y2="1149.4" stroke="#000" stroke-width="7.2"/>
<line x1="1370.5" y1="1218.5" x2="1483.4" y2="1218.5" stroke="#f00" stroke-width="7.2"/>
</g>
<g font-size="54.5" fill="#000">
<text transform="translate(1496.3,1038.0) scale(0.925,1)">GM-65-Fe (III)</text>
<text transform="translate(1496.3,1105.9) scale(0.925,1)">GM-40-Fe (III)</text>
<text transform="translate(1497.8,1169.0) scale(0.925,1)">GM-65-Fe (III)</text>
<text transform="translate(1497.8,1237.9) scale(0.925,1)">GM-40-Fe (III)</text>
</g>
</svg></body></html>
